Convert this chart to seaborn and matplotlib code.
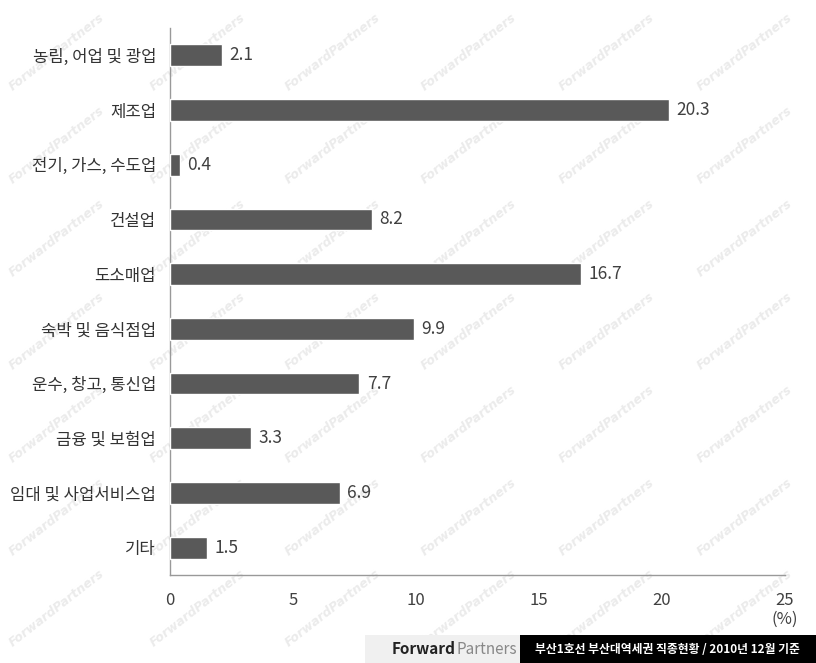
import matplotlib
matplotlib.use('Agg')
import matplotlib.pyplot as plt
import seaborn as sns
import pandas as pd

# data
categories = ['농림, 어업 및 광업', '제조업', '전기, 가스, 수도업', '건설업', '도소매업',
              '숙박 및 음식점업', '운수, 창고, 통신업', '금융 및 보험업', '임대 및 사업서비스업', '기타']
values = [2.1, 20.3, 0.4, 8.2, 16.7, 9.9, 7.7, 3.3, 6.9, 1.5]
x_ticks = [0, 5, 10, 15, 20, 25]
footer_text = '부산1호선 부산대역세권 직종현황 / 2010년 12월 기준'
watermark = 'ForwardPartners'

df = pd.DataFrame({'category': categories, 'value': values})

sns.set_style('white')
plt.rcParams['font.family'] = ['Noto Sans CJK KR', 'DejaVu Sans']

fig = plt.figure(figsize=(8.16, 6.63), dpi=100)
ax = fig.add_axes([0.2083, 0.1327, 0.7537, 0.8251])
ax.patch.set_alpha(0)

# faint watermark pattern behind the chart
wm_cols = [57, 198, 333, 469, 607, 745]
wm_rows = [52, 145, 238, 331, 424, 517, 608]
for py in wm_rows:
    for px in wm_cols:
        fig.text(px / 816, 1 - py / 663, watermark, rotation=38, color='#ebebeb',
                 fontsize=9, style='italic', fontweight='bold', family='DejaVu Sans',
                 ha='center', va='center', zorder=-5)

sns.barplot(data=df, y='category', x='value', orient='h', color='#595959',
            saturation=1, width=0.4, ax=ax, zorder=3)

ax.set_xlim(0, 25)
ax.set_ylim(len(categories) - 0.5, -0.5)
ax.set_xticks(x_ticks)
ax.set_xticklabels([str(t) for t in x_ticks], fontsize=12, color='#404040')
ax.set_yticks(range(len(categories)))
ax.set_yticklabels(categories, fontsize=12, color='#333333')
ax.tick_params(axis='y', length=0, pad=10)
ax.set_yticks([i - 0.5 for i in range(len(categories) + 1)], minor=True)
ax.tick_params(axis='y', which='minor', length=4, color='#999999', direction='out')
ax.tick_params(axis='x', length=4, color='#999999', direction='out', pad=8)
ax.set_xlabel('')
ax.set_ylabel('')

for side in ['top', 'right']:
    ax.spines[side].set_visible(False)
for side in ['left', 'bottom']:
    ax.spines[side].set_color('#999999')
    ax.spines[side].set_linewidth(1)

# value labels
for i, v in enumerate(values):
    ax.text(v + 0.3, i, f'{v}', va='center', ha='left', fontsize=12.5, color='#404040')

fig.text(0.962, 0.066, '(%)', ha='center', va='center', fontsize=12, color='#404040')

# footer
fig.patches.append(plt.Rectangle((0.447, 0.0), 0.19, 0.042, transform=fig.transFigure,
                                 facecolor='#f0f0f0', edgecolor='none', zorder=2))
fig.patches.append(plt.Rectangle((0.637, 0.0), 0.363, 0.042, transform=fig.transFigure,
                                 facecolor='#000000', edgecolor='none', zorder=2))
fig.text(0.558, 0.021, 'Forward', ha='right', va='center', fontsize=11,
         fontweight='bold', color='#222222', zorder=3)
fig.text(0.559, 0.021, 'Partners', ha='left', va='center', fontsize=11, color='#888888', zorder=3)
fig.text(0.818, 0.021, footer_text, ha='center', va='center', fontsize=8.5,
         color='white', fontweight='bold', zorder=3)

fig.savefig('out.png', dpi=100)
